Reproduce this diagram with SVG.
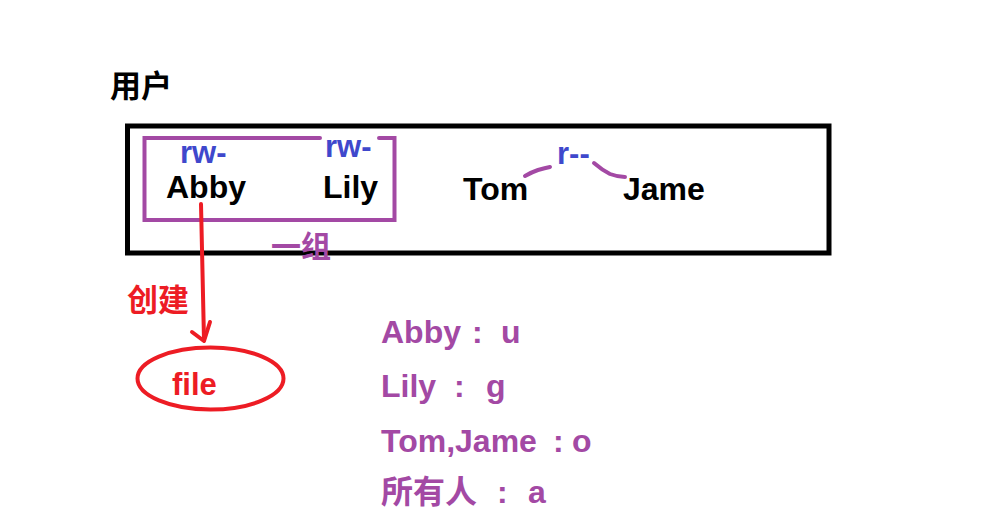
<svg xmlns="http://www.w3.org/2000/svg" width="997" height="530" viewBox="0 0 997 530">
<style>
text{font-family:"Liberation Sans","Noto Sans CJK SC",sans-serif;font-weight:bold}
.k{fill:#000;font-size:32px}
.b{fill:#3f48cc;font-size:31px}
.p{fill:#a349a4;font-size:32px}
.r{fill:#ed1c24;font-size:31px}
.ps{fill:none;stroke:#a349a4;stroke-width:4;stroke-linecap:round}
.rs{fill:none;stroke:#ed1c24;stroke-width:4;stroke-linecap:round;stroke-linejoin:round}
</style>
<rect width="997" height="530" fill="#fff"/>
<text id="title" class="k" x="110" y="97" style="font-size:31px">用户</text>
<g id="users-box">
<rect x="127.5" y="126" width="701.5" height="127" fill="none" stroke="#000" stroke-width="5"/>
</g>
<g id="group-box">
<path class="ps" d="M320,138 H144.5 V220 H394.5 V138 H379" stroke-linecap="butt"/>
<text class="p" x="271" y="257" style="font-size:30px">一组</text>
</g>
<g id="abby">
<text class="b" x="180" y="163">rw-</text>
<text class="k" x="166" y="198">Abby</text>
</g>
<g id="lily">
<text class="b" x="325" y="157">rw-</text>
<text class="k" x="323" y="198">Lily</text>
</g>
<g id="tom">
<text class="k" x="463" y="200">Tom</text>
</g>
<g id="jame">
<text class="k" x="623" y="200">Jame</text>
</g>
<g id="others-perm">
<text class="b" x="557" y="164">r--</text>
</g>
<g id="file">
<ellipse cx="210.5" cy="378.5" rx="73" ry="31" fill="none" stroke="#ed1c24" stroke-width="4"/>
<text class="r" x="172" y="395">file</text>
</g>
<g id="connectors">
<path class="ps" d="M525,176 Q532,172 538,170 Q545,168 550,167"/>
<path class="ps" d="M594,163 Q602,170 610,174 Q618,177 625,177"/>
<path class="rs" d="M201,204 L204,340"/>
<path class="rs" d="M192,332 L204,341 L210,322"/>
<text class="r" x="127" y="311">创建</text>
</g>
<g id="legend">
<text class="p" x="381" y="343">Abby<tspan x="472">:</tspan><tspan x="501">u</tspan></text>
<text class="p" x="381" y="397">Lily<tspan x="454">:</tspan><tspan x="486">g</tspan></text>
<text class="p" x="381" y="452">Tom,Jame<tspan x="553">:</tspan><tspan x="572">o</tspan></text>
<text class="p" x="381" y="503">所有人<tspan x="497">:</tspan><tspan x="528">a</tspan></text>
</g>
</svg>
